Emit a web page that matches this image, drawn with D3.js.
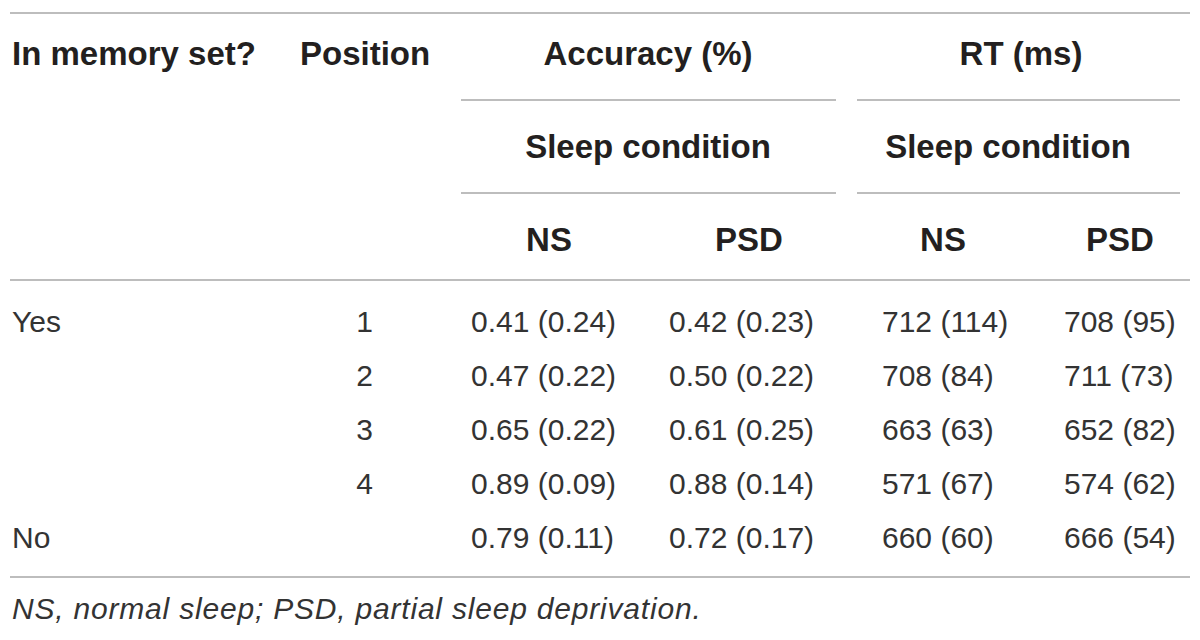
<!DOCTYPE html>
<html>
<head>
<meta charset="utf-8">
<script src="https://cdn.jsdelivr.net/npm/d3@7"></script>
<style>
  html, body { margin: 0; padding: 0; background: #fff; }
  svg { display: block; }
</style>
</head>
<body>
<svg id="chart" width="1200" height="640"></svg>
<script>
// ---- data ----
const memoryGroups = ["Yes", "", "", "", "No"];
const positions = ["1", "2", "3", "4", ""];
const accNSMean  = [0.41, 0.47, 0.65, 0.89, 0.79];
const accNSSD    = [0.24, 0.22, 0.22, 0.09, 0.11];
const accPSDMean = [0.42, 0.50, 0.61, 0.88, 0.72];
const accPSDSD   = [0.23, 0.22, 0.25, 0.14, 0.17];
const rtNSMean   = [712, 708, 663, 571, 660];
const rtNSSD     = [114, 84, 63, 67, 60];
const rtPSDMean  = [708, 711, 652, 574, 666];
const rtPSDSD    = [95, 73, 82, 62, 54];
const headerTop = ["In memory set?", "Position", "Accuracy (%)", "RT (ms)"];
const headerMid = ["Sleep condition", "Sleep condition"];
const headerSub = ["NS", "PSD", "NS", "PSD"];
const footnote = "NS, normal sleep; PSD, partial sleep deprivation.";

// ---- layout ----
const svg = d3.select("#chart");
const textColor = "#231f20";
const bodyColor = "#333333";
const ruleColor = "#bdbdbd";
const bodyFont = "'Liberation Sans', Arial, Helvetica, sans-serif";
const headFont = "'Liberation Sans', Arial, Helvetica, sans-serif";
const headSize = 33;
const bodySize = 30;

const rowIdx = d3.range(positions.length);
const y = d3.scalePoint().domain(rowIdx).range([332, 548]);

const f2 = d3.format(".2f");
const f0 = d3.format("d");
const cells = [
  rowIdx.map(i => `${f2(accNSMean[i])} (${f2(accNSSD[i])})`),
  rowIdx.map(i => `${f2(accPSDMean[i])} (${f2(accPSDSD[i])})`),
  rowIdx.map(i => `${f0(rtNSMean[i])} (${f0(rtNSSD[i])})`),
  rowIdx.map(i => `${f0(rtPSDMean[i])} (${f0(rtPSDSD[i])})`)
];
const valueX = d3.scaleOrdinal().domain([0, 1, 2, 3]).range([471, 669, 882, 1064]);
const subX = d3.scaleOrdinal().domain([0, 1, 2, 3]).range([549, 749, 943, 1120]);

// rules
const rules = [
  {x1: 10, x2: 1190, y: 13},
  {x1: 461, x2: 836, y: 100},
  {x1: 857, x2: 1180, y: 100},
  {x1: 461, x2: 836, y: 193},
  {x1: 857, x2: 1180, y: 193},
  {x1: 10, x2: 1190, y: 280},
  {x1: 10, x2: 1190, y: 577}
];
svg.selectAll("line.rule").data(rules).join("line")
  .attr("class", "rule")
  .attr("x1", d => d.x1).attr("x2", d => d.x2)
  .attr("y1", d => d.y).attr("y2", d => d.y)
  .attr("stroke", ruleColor).attr("stroke-width", 2);

// header row 1
const topPos = [
  {x: 12, anchor: "start"},
  {x: 300, anchor: "start"},
  {x: 648, anchor: "middle"},
  {x: 1021, anchor: "middle"}
];
svg.selectAll("text.h1").data(headerTop).join("text")
  .attr("class", "h1")
  .attr("x", (d, i) => topPos[i].x)
  .attr("y", 64.5)
  .attr("text-anchor", (d, i) => topPos[i].anchor)
  .attr("font-family", headFont).attr("font-weight", "bold")
  .attr("font-size", headSize).attr("fill", textColor)
  .text(d => d);

svg.selectAll("text.h2").data(headerMid).join("text")
  .attr("class", "h2")
  .attr("x", (d, i) => [648, 1008][i])
  .attr("y", 158)
  .attr("text-anchor", "middle")
  .attr("font-family", headFont).attr("font-weight", "bold")
  .attr("font-size", headSize).attr("fill", textColor)
  .text(d => d);

svg.selectAll("text.h3").data(headerSub).join("text")
  .attr("class", "h3")
  .attr("x", (d, i) => subX(i))
  .attr("y", 251)
  .attr("text-anchor", "middle")
  .attr("font-family", headFont).attr("font-weight", "bold")
  .attr("font-size", headSize).attr("fill", textColor)
  .text(d => d);

// body
svg.selectAll("text.grp").data(memoryGroups).join("text")
  .attr("class", "grp")
  .attr("x", 12).attr("y", (d, i) => y(i))
  .attr("font-family", bodyFont)
  .attr("font-size", bodySize).attr("fill", bodyColor)
  .text(d => d);

svg.selectAll("text.pos").data(positions).join("text")
  .attr("class", "pos")
  .attr("x", 373).attr("y", (d, i) => y(i))
  .attr("text-anchor", "end")
  .attr("font-family", bodyFont)
  .attr("font-size", bodySize).attr("fill", bodyColor)
  .text(d => d);

cells.forEach((col, c) => {
  svg.selectAll(`text.col${c}`).data(col).join("text")
    .attr("class", `col${c}`)
    .attr("x", valueX(c)).attr("y", (d, i) => y(i))
    .attr("font-family", bodyFont)
    .attr("font-size", bodySize).attr("fill", bodyColor)
    .text(d => d);
});

// footnote
svg.append("text")
  .attr("x", 12).attr("y", 619)
  .attr("font-family", bodyFont).attr("font-style", "italic")
  .attr("font-size", 30).attr("letter-spacing", 0.8).attr("fill", bodyColor)
  .text(footnote);
</script>
</body>
</html>
